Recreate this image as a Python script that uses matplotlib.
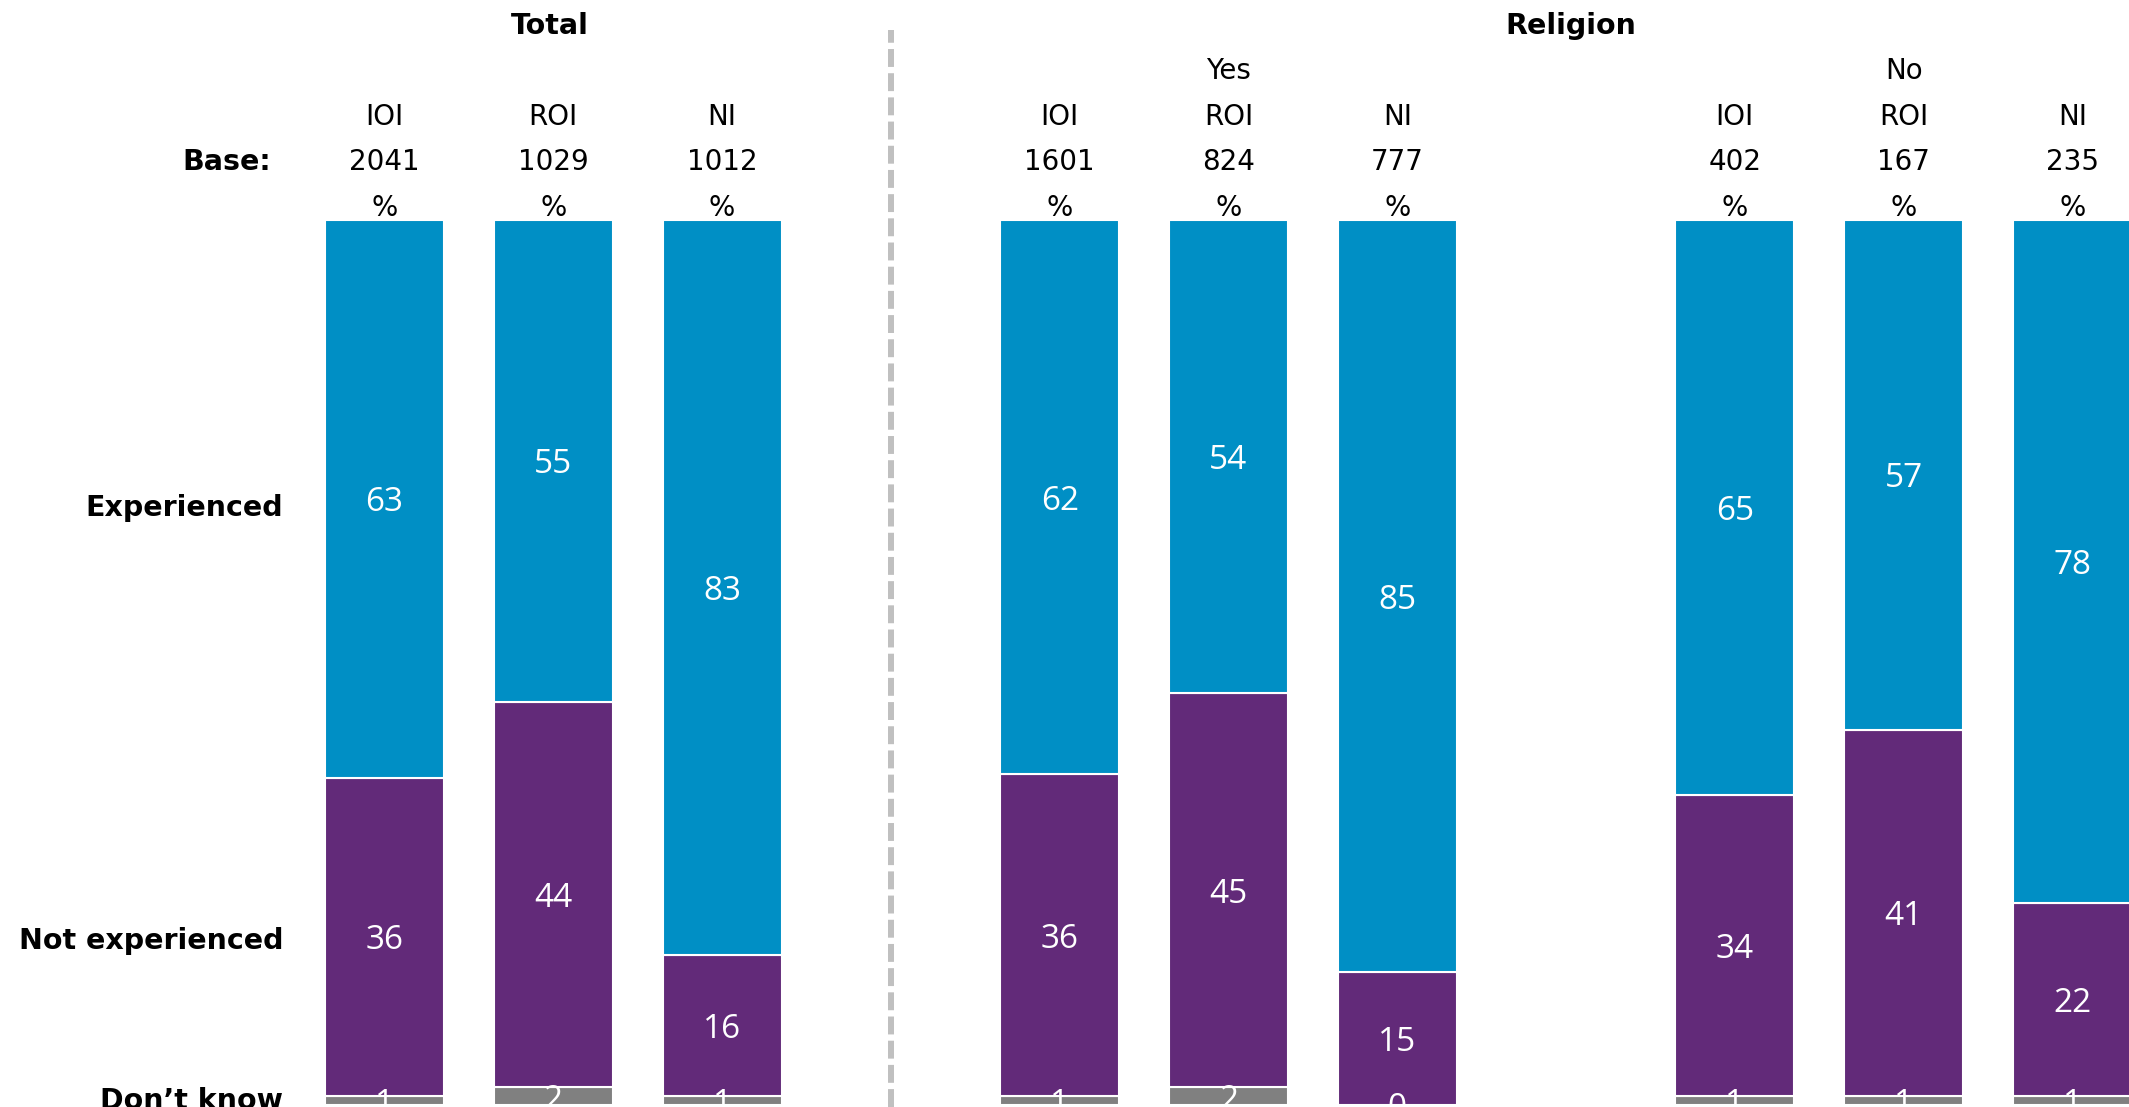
import matplotlib.pyplot as plt
import numpy as np

# data
groups = ['Total', 'Religion']
subgroups = ['', 'Yes', 'No']
columns = ['IOI', 'ROI', 'NI'] * 3
bases = [2041, 1029, 1012, 1601, 824, 777, 402, 167, 235]
experienced = [63, 55, 83, 62, 54, 85, 65, 57, 78]
not_experienced = [36, 44, 16, 36, 45, 15, 34, 41, 22]
dont_know = [1, 2, 1, 1, 2, 0, 1, 1, 1]
row_labels = ['Experienced', 'Not experienced', 'Don\u2019t know']

blue = '#008FC5'
purple = '#622A79'
grey = '#808080'

# slot positions: three bars per group, one empty slot between groups
x = np.array([0, 1, 2, 4, 5, 6, 8, 9, 10])

exp = np.array(experienced, dtype=float)
nex = np.array(not_experienced, dtype=float)
dk = np.array(dont_know, dtype=float)
tot = exp + nex + dk
exp_p = exp / tot * 100
nex_p = nex / tot * 100
dk_p = dk / tot * 100

fig = plt.figure(figsize=(21.29, 11.07), dpi=100)
ax = fig.add_axes([0, 0, 1, 1])
ax.set_xlim(-2.278, 10.335)
ax.set_ylim(-0.23, 124.86)
ax.axis('off')

w = 0.706
ax.bar(x, dk_p, w, color=grey, edgecolor='white', linewidth=1.5)
ax.bar(x, nex_p, w, bottom=dk_p, color=purple, edgecolor='white', linewidth=1.5)
ax.bar(x, exp_p, w, bottom=dk_p + nex_p, color=blue, edgecolor='white', linewidth=1.5)

val_font = dict(color='white', fontsize=24, family='Open Sans', ha='center', va='center')
off = -0.45
for i in range(len(x)):
    ax.text(x[i], dk_p[i] / 2 + off, dont_know[i], **val_font)
    ax.text(x[i], dk_p[i] + nex_p[i] / 2 + off, not_experienced[i], **val_font)
    ax.text(x[i], dk_p[i] + nex_p[i] + exp_p[i] / 2 + off, experienced[i], **val_font)

# row labels next to the first bar's segments
mids = [dk_p[0] + nex_p[0] + exp_p[0] / 2, dk_p[0] + nex_p[0] / 2, dk_p[0] / 2]
shifts = [-1.05, -0.45, 0.0]
for lab, m, s in zip(row_labels, mids, shifts):
    ax.text(-0.6, m + s, lab, ha='right', va='center', fontsize=20.5, fontweight='bold')

# header rows
tr = ax.get_xaxis_transform()
ax.text(0.98, 0.9765, groups[0], transform=tr, ha='center', va='center', fontsize=20.5, fontweight='bold')
ax.text(7.03, 0.9765, groups[1], transform=tr, ha='center', va='center', fontsize=20.5, fontweight='bold')
ax.text(5, 0.9355, subgroups[1], transform=tr, ha='center', va='center', fontsize=20)
ax.text(9, 0.9355, subgroups[2], transform=tr, ha='center', va='center', fontsize=20)
ax.text(-0.67, 0.8535, 'Base:', transform=tr, ha='right', va='center', fontsize=20.5, fontweight='bold')
for i in range(len(x)):
    ax.text(x[i], 0.8945, columns[i], transform=tr, ha='center', va='center', fontsize=20)
    ax.text(x[i], 0.8535, bases[i], transform=tr, ha='center', va='center', fontsize=20)
    ax.text(x[i], 0.8125, '%', transform=tr, ha='center', va='center', fontsize=20)

# dashed divider between Total and Religion
ax.plot([3, 3], [0, 0.973], transform=tr, color='#C0C0C0', linewidth=4.3,
        linestyle=(0, (3, 1.05)), clip_on=False)

fig.savefig('out.png', dpi=100)
